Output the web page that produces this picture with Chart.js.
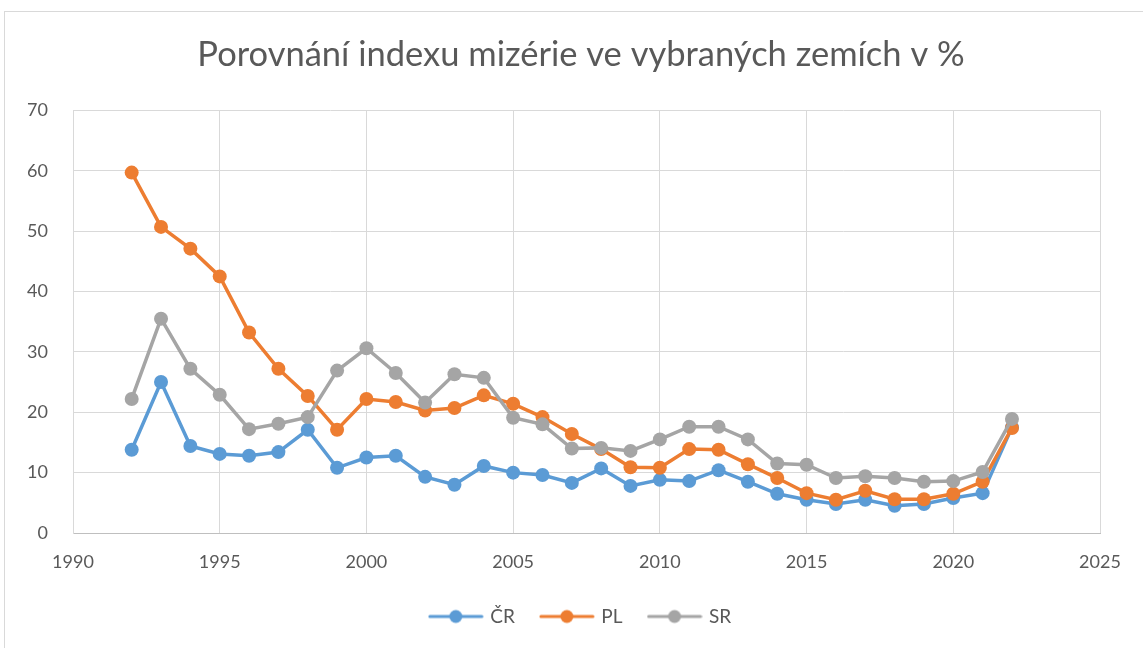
<!DOCTYPE html>
<html>
<head>
<meta charset="utf-8">
<script src="https://cdn.jsdelivr.net/npm/chart.js@4/dist/chart.umd.min.js"></script>
<style>
  body { margin: 0; background: #fff; }
  #wrap { position: relative; width: 1143px; height: 648px; }
  #frame { position: absolute; left: 4px; top: 11px; width: 1150px; height: 650px; border: 1px solid #d9d9d9; box-sizing: border-box; }
  canvas { position: absolute; left: 0; top: 0; }
</style>
</head>
<body>
<div id="wrap">
  <div id="frame"></div>
  <canvas id="myChart" width="1143" height="648"></canvas>
</div>
<script>
const years = [1992, 1993, 1994, 1995, 1996, 1997, 1998, 1999, 2000, 2001, 2002, 2003, 2004, 2005, 2006, 2007,
    2008, 2009, 2010, 2011, 2012, 2013, 2014, 2015, 2016, 2017, 2018, 2019, 2020, 2021, 2022];
const cr = [13.8, 25.0, 14.4, 13.1, 12.8, 13.4, 17.1, 10.8, 12.5, 12.8, 9.3, 8.0, 11.1, 10.0, 9.6, 8.3,
    10.7, 7.8, 8.8, 8.6, 10.4, 8.5, 6.5, 5.5, 4.8, 5.5, 4.5, 4.8, 5.8, 6.6, 17.5];
const pl = [59.7, 50.7, 47.1, 42.5, 33.2, 27.2, 22.7, 17.1, 22.2, 21.7, 20.3, 20.7, 22.8, 21.4, 19.2, 16.4,
    13.9, 10.9, 10.8, 13.9, 13.8, 11.4, 9.1, 6.6, 5.5, 7.0, 5.6, 5.6, 6.5, 8.5, 17.4];
const sr = [22.2, 35.5, 27.2, 22.9, 17.2, 18.1, 19.2, 26.9, 30.6, 26.5, 21.6, 26.3, 25.7, 19.1, 18.0, 14.0,
    14.1, 13.6, 15.5, 17.6, 17.6, 15.5, 11.5, 11.3, 9.1, 9.4, 9.1, 8.5, 8.6, 10.1, 18.9];
const seriesNames = ['ČR', 'PL', 'SR'];
const seriesColors = ['#5B9BD5', '#ED7D31', '#A5A5A5'];
const xTicks = [1990, 1995, 2000, 2005, 2010, 2015, 2020, 2025];

const fontFamily = 'Lato, "Open Sans", sans-serif';
const textColor = '#595959';
const gridColor = '#d9d9d9';

// legend symbol: short line with a dot in the middle
const legendIcon = (color) => {
    const c = document.createElement('canvas');
    c.width = 56; c.height = 16;
    const g = c.getContext('2d');
    g.strokeStyle = color;
    g.lineWidth = 3;
    g.lineCap = 'round';
    g.beginPath(); g.moveTo(2, 8); g.lineTo(54, 8); g.stroke();
    g.fillStyle = color;
    g.beginPath(); g.arc(28, 8, 6.5, 0, Math.PI * 2); g.fill();
    return c;
}

// y axis is kept narrow (so title/legend centre like the original); widen its box again
// after layout so the tick labels are not clipped away
const labelRoom = {
    id: 'labelRoom',
    afterLayout: (chart) => { chart.scales.y.left = 0; }
};

const toPoints = (vals) => years.map((y, i) => ({ x: y, y: vals[i] }));

const main = () => {
    const allSeries = [cr, pl, sr];
    const datasets = allSeries.map((vals, i) => ({
        label: seriesNames[i],
        data: toPoints(vals),
        showLine: true,
        borderColor: seriesColors[i],
        backgroundColor: seriesColors[i],
        borderWidth: 3.5,
        pointRadius: 7,
        pointHoverRadius: 7,
        pointBorderWidth: 0,
        order: 3 - i,
    }));

    const config = {
        type: 'scatter',
        data: { datasets },
        plugins: [labelRoom],
        options: {
            responsive: false,
            animation: false,
            layout: { padding: { left: 62, right: 43, top: 0, bottom: 12 } },
            plugins: {
                tooltip: { enabled: false },
                title: {
                    display: true,
                    text: 'Porovnání indexu mizérie ve vybraných zemích v %',
                    color: textColor,
                    font: { family: fontFamily, size: 34.5, weight: 'normal' },
                    padding: { top: 34, bottom: 35 },
                },
                legend: {
                    position: 'bottom',
                    labels: {
                        color: textColor,
                        font: { family: fontFamily, size: 19 },
                        usePointStyle: true,
                        pointStyleWidth: 50,
                        padding: 27,
                        sort: (a, b) => a.datasetIndex - b.datasetIndex,
                        generateLabels: (chart) => chart.data.datasets.map((ds, i) => ({
                            text: ds.label,
                            fillStyle: ds.borderColor,
                            strokeStyle: ds.borderColor,
                            fontColor: textColor,
                            pointStyle: legendIcon(ds.borderColor),
                            datasetIndex: i,
                            hidden: false,
                            lineWidth: 0,
                        })),
                    },
                },
            },
            scales: {
                x: {
                    type: 'linear',
                    min: 1990,
                    max: 2025,
                    afterBuildTicks: (axis) => { axis.ticks = xTicks.map(v => ({ value: v })); },
                    afterFit: (axis) => { axis.height = 47; },
                    ticks: {
                        color: textColor,
                        font: { family: fontFamily, size: 18 },
                        padding: 18,
                        maxRotation: 0,
                        callback: (v) => String(v),
                    },
                    grid: { color: gridColor, lineWidth: 1, drawTicks: false },
                    border: { color: '#bfbfbf', width: 1 },
                },
                y: {
                    min: 0,
                    max: 70,
                    afterFit: (axis) => { axis.width = 11; },
                    ticks: {
                        stepSize: 10,
                        color: textColor,
                        font: { family: fontFamily, size: 18 },
                        padding: 25,
                    },
                    grid: { color: gridColor, lineWidth: 1, drawTicks: false },
                    border: { color: gridColor, width: 1 },
                },
            },
        },
    };

    new Chart(document.getElementById('myChart'), config);
}

window.onload = () => main()
</script>
</body>
</html>
